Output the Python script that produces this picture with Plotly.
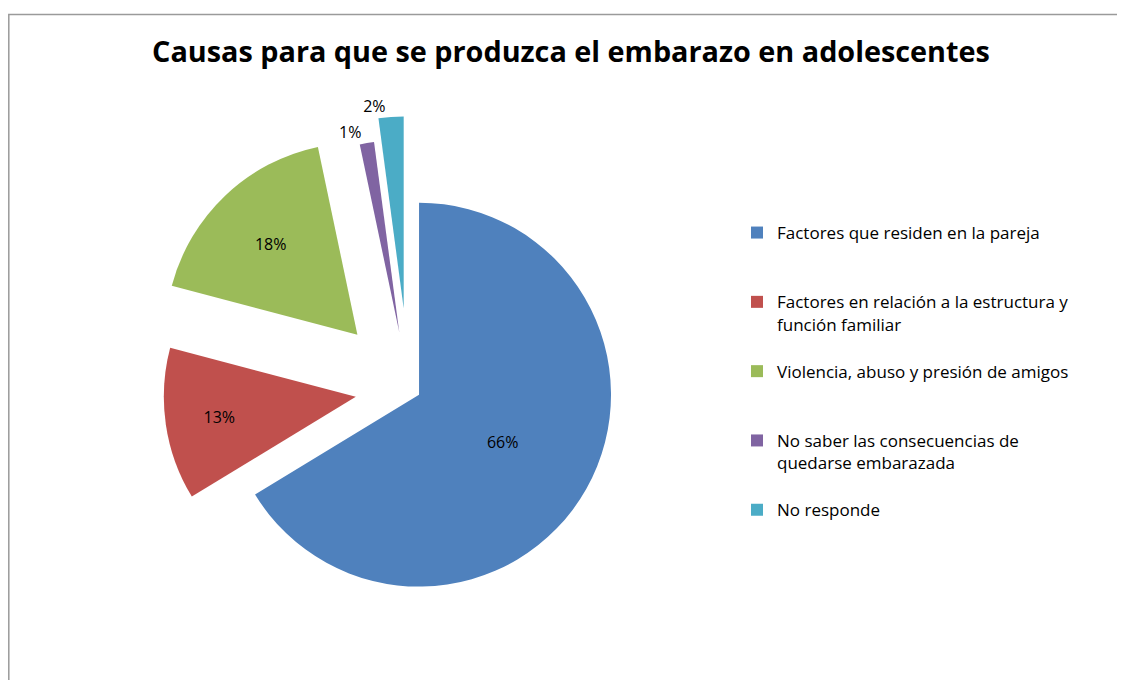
import plotly.graph_objects as go

# slice data (percent of answers)
labels = [
    "Factores que residen en la pareja",
    "Factores en relación a la estructura y<br>función familiar",
    "Violencia, abuso y presión de amigos",
    "No saber las consecuencias de<br>quedarse embarazada",
    "No responde",
]
values = [66.3, 12.8, 17.6, 1.2, 2.1]
colors = ["#4F81BD", "#C0504D", "#9BBB59", "#8064A2", "#4BACC6"]
pulls = [0.06, 0.28, 0.39, 0.30, 0.42]
text_pos = ["inside", "inside", "inside", "outside", "outside"]

# pad every legend entry to the same number of lines so the entries are evenly spaced
legend_labels = []
for lab in labels:
    n = lab.count("<br>") + 1
    legend_labels.append(lab + "<br>\u00a0" * (3 - n))

# the page body has an 8px margin, so the figure is a bit smaller than the window
OFF = 8
W, H = 1125 - OFF, 680 - OFF
FONT = "Open Sans"


def px(x):
    return (x - OFF) / W


def py(y):
    return 1 - (y - OFF) / H


fig = go.Figure()
fig.add_trace(
    go.Pie(
        labels=legend_labels,
        values=values,
        sort=False,
        direction="clockwise",
        rotation=0,
        pull=pulls,
        marker={"colors": colors, "line": {"width": 0}},
        texttemplate="%{percent:.0%}",
        textposition=text_pos,
        insidetextorientation="horizontal",
        textfont={"family": FONT, "size": 16, "color": "black"},
        hoverinfo="label+percent",
        domain={"x": [px(136.4), px(681.6)], "y": [py(661.6), py(116.4)]},
    )
)

fig.update_layout(
    width=W,
    height=H,
    margin={"l": 0, "r": 0, "t": 0, "b": 0, "autoexpand": False},
    paper_bgcolor="white",
    title={
        "text": "<b>Causas para que se produzca el embarazo en adolescentes</b>",
        "x": px(571),
        "xanchor": "center",
        "y": py(52),
        "yanchor": "middle",
        "font": {"family": FONT, "size": 28.8, "color": "black"},
    },
    legend={
        "x": px(737),
        "xanchor": "left",
        "y": py(215),
        "yanchor": "top",
        "valign": "top",
        "font": {"family": FONT, "size": 17, "color": "black"},
        "bgcolor": "rgba(0,0,0,0)",
    },
    shapes=[
        {
            "type": "rect",
            "xref": "paper",
            "yref": "paper",
            "x0": 0.8 / W,
            "x1": 1.05,
            "y0": -0.05,
            "y1": py(14.5),
            "line": {"color": "#9a9a9a", "width": 1.5},
        }
    ],
)

fig.write_html("out.html")
